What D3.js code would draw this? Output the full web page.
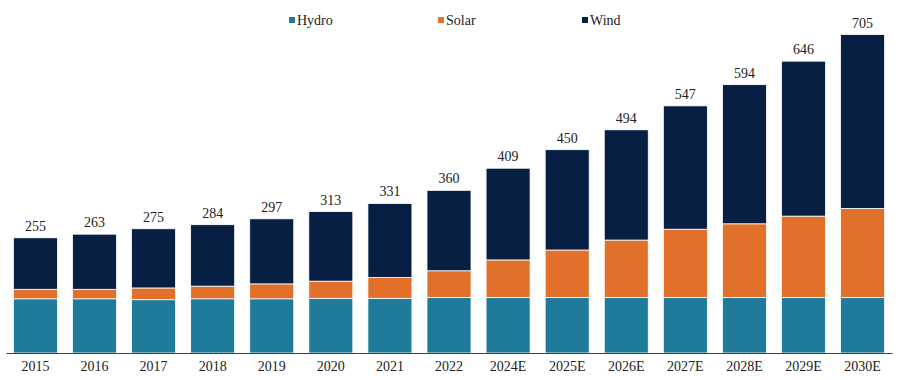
<!DOCTYPE html>
<html>
<head>
<meta charset="utf-8">
<script src="https://cdn.jsdelivr.net/npm/d3@7"></script>
<style>
  html, body { margin: 0; padding: 0; background: #fff; }
  svg { display: block; }
  text { font-family: "Times New Roman", Times, "Liberation Serif", serif; fill: #222; }
</style>
</head>
<body>
<svg id="chart" width="899" height="380"></svg>
<script>
const categories = ["2015","2016","2017","2018","2019","2020","2021","2022","2024E","2025E","2026E","2027E","2028E","2029E","2030E"];
const totals = [255,263,275,284,297,313,331,360,409,450,494,547,594,646,705];
const hydro  = [120,120,118,120,120,121,121,123,123,123,123,123,123,123,123];
const solar  = [21,21,26,28,33,38,46,59,83,105,127,151,163,180,197];
const wind   = totals.map((t, i) => t - hydro[i] - solar[i]);
const seriesNames = ["Hydro","Solar","Wind"];
const colors = ["#1F7B99","#E0702A","#061F43"];

const svg = d3.select("#chart");
const baseY = 353;
const x = d3.scaleBand().domain(categories).range([6, 892]).paddingInner(0.255).paddingOuter(0.125);
const y = d3.scaleLinear().domain([0, 705]).range([baseY, 34.5]);

const rows = categories.map((c, i) => ({cat: c, Hydro: hydro[i], Solar: solar[i], Wind: wind[i], total: totals[i]}));
const stack = d3.stack().keys(seriesNames)(rows);

svg.append("g").selectAll("g").data(stack).join("g")
  .attr("fill", (d, i) => colors[i])
  .selectAll("rect").data(d => d).join("rect")
  .attr("x", d => x(d.data.cat))
  .attr("width", x.bandwidth())
  .attr("y", d => y(d[1]))
  .attr("height", d => y(d[0]) - y(d[1]))
  .attr("stroke", "#fff")
  .attr("stroke-width", 0.8);

svg.append("g").selectAll("text").data(rows).join("text")
  .attr("x", d => x(d.cat) + x.bandwidth() / 2)
  .attr("y", d => y(d.total) - 7)
  .attr("text-anchor", "middle")
  .attr("font-size", 14)
  .text(d => d.total);

const xAxis = svg.append("g").attr("transform", `translate(0,${baseY})`)
  .call(d3.axisBottom(x).tickSize(0).tickPadding(8));
xAxis.select(".domain").attr("stroke", "#404040").attr("stroke-width", 1.2);
xAxis.selectAll("text").attr("font-size", 14).attr("fill", "#222");

const legendX = [289, 438, 582];
const lg = svg.append("g").selectAll("g").data(seriesNames).join("g")
  .attr("transform", (d, i) => `translate(${legendX[i]},20)`);
lg.append("rect").attr("x", 0).attr("y", -3).attr("width", 6).attr("height", 6)
  .attr("fill", (d, i) => colors[i]);
lg.append("text").attr("x", 8).attr("y", 4.5).attr("font-size", 14).text(d => d);
</script>
</body>
</html>
